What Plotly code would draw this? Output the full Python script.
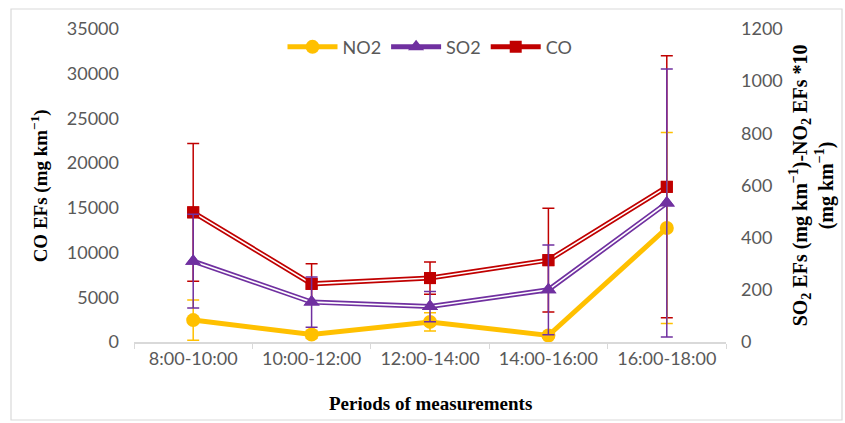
import plotly.graph_objects as go

categories = ["8:00-10:00", "10:00-12:00", "12:00-14:00", "14:00-16:00", "16:00-18:00"]
co = [14500, 6500, 7150, 9150, 17350]
co_err = [7700, 2250, 1800, 5800, 14650]
so2 = [310, 153, 136, 200, 533]
so2_err = [180, 96, 58, 172, 514]
no2 = [84, 29, 77, 25, 437]
no2_err = [77, 15, 35, 10, 366]

YEL = "#FFC000"
PUR = "#7030A0"
RED = "#C00000"

fig = go.Figure()

# NO2 (right axis)
fig.add_trace(go.Scatter(x=categories, y=no2, name="NO2", yaxis="y2", mode="lines+markers",
                         line=dict(color=YEL, width=5),
                         marker=dict(symbol="circle", size=14, color=YEL),
                         error_y=dict(type="data", array=no2_err, color=YEL, thickness=1.5, width=6)))

# SO2 (right axis) double line
fig.add_trace(go.Scatter(x=categories, y=so2, name="SO2", yaxis="y2", mode="lines+markers",
                         line=dict(color=PUR, width=5),
                         marker=dict(symbol="triangle-up", size=14, color=PUR)))
fig.add_trace(go.Scatter(x=categories, y=so2, yaxis="y2", mode="lines", showlegend=False,
                         line=dict(color="white", width=1.6), hoverinfo="skip"))
fig.add_trace(go.Scatter(x=categories, y=so2, yaxis="y2", mode="markers", showlegend=False,
                         marker=dict(symbol="triangle-up", size=14, color=PUR),
                         error_y=dict(type="data", array=so2_err, color=PUR, thickness=1.5, width=6)))

# CO (left axis) double line
fig.add_trace(go.Scatter(x=categories, y=co, name="CO", mode="lines+markers",
                         line=dict(color=RED, width=5),
                         marker=dict(symbol="square", size=12, color=RED)))
fig.add_trace(go.Scatter(x=categories, y=co, mode="lines", showlegend=False,
                         line=dict(color="white", width=1.6), hoverinfo="skip"))
fig.add_trace(go.Scatter(x=categories, y=co, mode="markers", showlegend=False,
                         marker=dict(symbol="square", size=12, color=RED),
                         error_y=dict(type="data", array=co_err, color=RED, thickness=1.5, width=6)))

tickfont = dict(family="Lato", size=18, color="#595959")
titlefont = dict(family="Liberation Serif", size=19, color="black")

fig.update_layout(
    width=845, height=423,
    margin=dict(l=134, r=119, t=29, b=81),
    paper_bgcolor="white", plot_bgcolor="white",
    showlegend=True,
    legend=dict(orientation="h", x=0.5, xanchor="center", y=0.942, yanchor="middle",
                font=dict(family="Lato", size=18, color="#595959"), bgcolor="rgba(0,0,0,0)",
                itemwidth=50),
    xaxis=dict(type="category", range=[-0.5, 4.5], showline=True, linecolor="#D9D9D9", linewidth=1.5,
               ticks="outside", tickson="boundaries", ticklen=5, tickcolor="#D9D9D9",
               showgrid=False, zeroline=False, tickfont=tickfont),
    yaxis=dict(range=[0, 35000], dtick=5000, tickformat="d", showline=False, showgrid=False, zeroline=False,
               ticks="", tickfont=tickfont, ticklabelstandoff=14),
    yaxis2=dict(range=[0, 1200], dtick=200, tickformat="d", overlaying="y", side="right", showline=False,
                showgrid=False, zeroline=False, ticks="", tickfont=tickfont, ticklabelstandoff=14),
    annotations=[
        dict(text="<b>CO EFs (mg km<sup>−1</sup>)</b>", xref="paper", yref="paper",
             x=-0.159, y=0.5, textangle=-90, showarrow=False, font=titlefont,
             xanchor="center", yanchor="middle"),
        dict(text="<b>SO<sub>2</sub> EFs (mg km<sup>−1</sup>)-NO<sub>2</sub> EFs *10<br>(mg km<sup>−1</sup>)</b>",
             xref="paper", yref="paper", x=1.145, y=0.5, textangle=-90, showarrow=False,
             font=dict(family="Liberation Serif", size=20, color="black"), xanchor="center", yanchor="middle"),
        dict(text="<b>Periods of measurements</b>", xref="paper", yref="paper",
             x=0.5, y=-0.195, showarrow=False, font=titlefont, xanchor="center", yanchor="middle"),
    ],
    shapes=[dict(type="rect", xref="paper", yref="paper",
                 x0=(11 - 134) / 592, x1=(842 - 134) / 592,
                 y0=(342 - 420) / 313, y1=(342 - 9) / 313,
                 line=dict(color="#D9D9D9", width=1.2), layer="below")],
)

fig.write_html("out.html")
